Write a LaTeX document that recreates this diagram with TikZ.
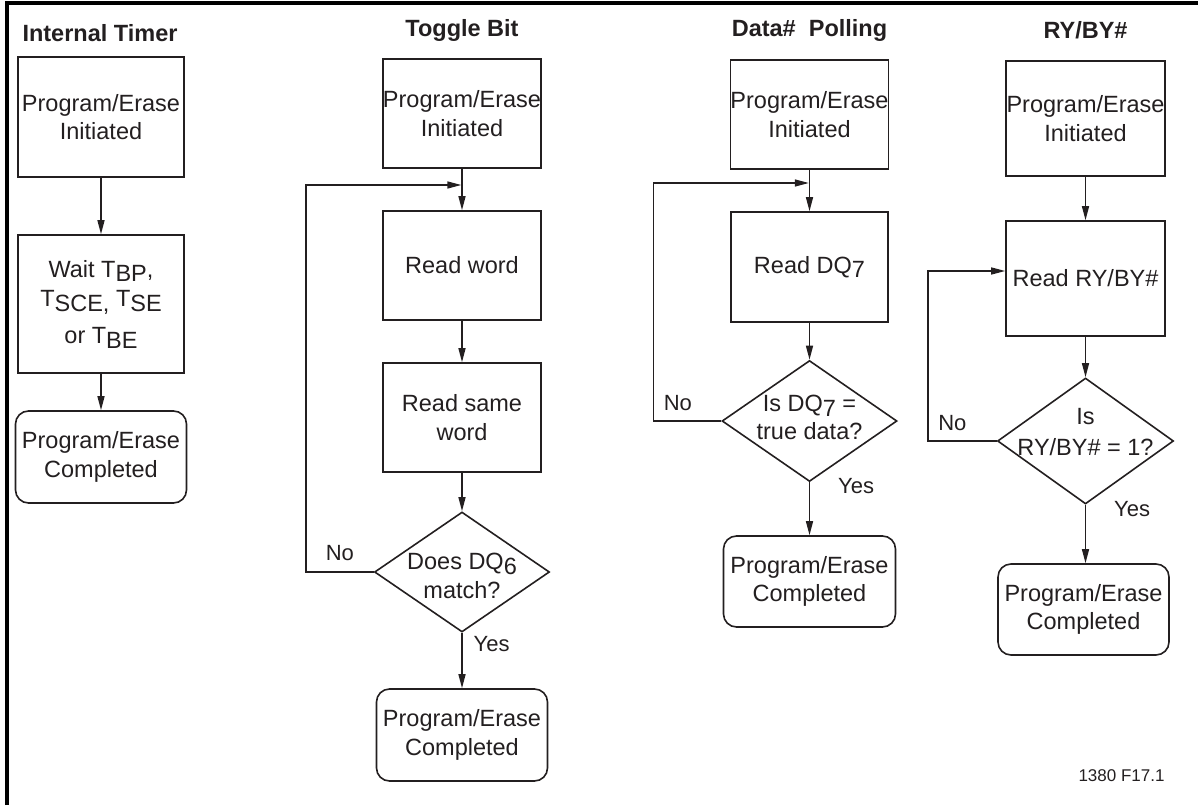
\documentclass[tikz,border=0pt]{standalone}
\usepackage{fontspec}
\setmainfont{Liberation Sans}
\usetikzlibrary{shapes.geometric}
\usetikzlibrary{arrows.meta}
\definecolor{ink}{RGB}{35,31,32}
\newcommand\dnsub[1]{\raisebox{-0.4ex}{#1}}
\newcommand\upsub[1]{\raisebox{0.4ex}{#1}}

\begin{document}
\begin{tikzpicture}[x=1pt,y=-1pt,
    >={Triangle[length=14pt,width=7pt]},
    every node/.style={text=ink, font=\fontsize{23.5}{28.5}\selectfont},
    wh/.style 2 args={minimum width=#1pt, minimum height=#2pt},
    box/.style={draw=ink, line width=1.6pt, align=center, inner sep=0pt},
    term/.style={box, rounded corners=13pt},
    dec/.style={draw=ink, line width=1.6pt, diamond, inner sep=0pt},
    title/.style={font=\fontsize{23.5}{28.5}\selectfont\bfseries},
    lbl/.style={inner sep=2pt, font=\fontsize{22}{22}\selectfont},
    flow/.style={draw=ink, line width=1.4pt, ->}]

    \useasboundingbox (0,0) rectangle (1198,805);
    \draw[line width=3.5pt] (7,805) -- (7,3) -- (1198,3); % frame

    % First column: internal timer
    \begin{scope}[shift={(101,0)}]
        \node[title] (t1) at (-1,33) {Internal Timer};
        \node[box, wh={166}{120}] (a1) at (0,117) {Program/Erase\\Initiated};
        \node[box, wh={166}{138}] (b1) at (0,304)
            {Wait T\dnsub{BP},\\[6pt]\upsub{T}SCE, \upsub{T}SE\\[3pt]or T\dnsub{BE}};
        \node[term, wh={171}{92}] (c1) at (0,457) {Program/Erase\\Completed};

        \draw[flow] (a1) -- (b1);
        \draw[flow] (b1) -- (c1);
    \end{scope}

    % Second column: toggle bit
    \begin{scope}[shift={(462,0)}]
        \node[title] (t2) at (0,30) {Toggle Bit};
        \node[box, wh={158}{109}] (a2) at (0,113.5) {Program/Erase\\Initiated};
        \node[box, wh={158}{109}] (r2) at (0,265.5) {Read word};
        \node[box, wh={158}{109}] (s2) at (0,417.5) {Read same\\word};
        \node[dec, wh={175}{120},
            label={[align=center, yshift=-4pt]center:{Does DQ\dnsub{6}\\match?}}] (d2) at (0,572) {};
        \node[term, wh={171}{92}] (c2) at (0,735) {Program/Erase\\Completed};
        \coordinate (k2) at (-156,185); % loop corner
        \coordinate (j2) at (a2.south |- k2); % loop joins here

        \draw[flow] (a2) -- (r2);
        \draw[flow] (r2) -- (s2);
        \draw[flow] (s2) -- (d2);
        \draw[flow] (d2) -- node[lbl, pos=0.2, right=9pt] {Yes} (c2);
        \draw[flow, shorten >=0.7pt] (d2.west) -- node[lbl, above=9pt] {No} (d2.west -| k2) -- (k2) -- (j2);
    \end{scope}

    % Third column: data# polling
    \begin{scope}[shift={(809.5,0)}]
        \node[title] (t3) at (0,30) {Data\#\ \ Polling};
        \node[box, wh={157}{109}] (a3) at (0,114.5) {Program/Erase\\Initiated};
        \node[box, wh={157}{110}] (r3) at (0,267) {Read DQ\dnsub{7}};
        \node[dec, wh={175}{121},
            label={[align=center, yshift=3.5pt]center:{Is DQ\dnsub{7} =\\true data?}}] (d3) at (0,421) {};
        \node[term, wh={172}{91}] (c3) at (0,581.5) {Program/Erase\\Completed};
        \coordinate (k3) at (-156,183); % loop corner
        \coordinate (j3) at (a3.south |- k3); % loop joins here

        \draw[flow] (a3) -- (r3);
        \draw[flow] (r3) -- (d3);
        \draw[flow] (d3) -- node[lbl, pos=0.07, right=26pt] {Yes} (c3);
        \draw[flow, shorten >=0.7pt] (d3.west) -- node[lbl, pos=0.64, above=8pt] {No} (d3.west -| k3) -- (k3) -- (j3);
    \end{scope}

    % Fourth column: RY/BY#
    \begin{scope}[shift={(1085.5,0)}]
        \node[title] (t4) at (0,30) {RY/BY\#};
        \node[box, wh={159}{115}] (a4) at (0,118.5) {Program/Erase\\Initiated};
        \node[box, wh={159}{115}] (r4) at (0,278.5) {Read RY/BY\#};
        \node[dec, wh={176}{126},
            label={[align=center, yshift=9pt]center:{Is\\[2pt]RY/BY\# = 1?}}] (d4) at (0,441) {};
        \node[term, wh={171}{91}] (c4) at (-2,609.5) {Program/Erase\\Completed};
        \coordinate (k4) at (-157.5,271); % loop corner
        \coordinate (j4) at (r4.west |- k4); % loop enters box here

        \draw[flow] (a4) -- (r4);
        \draw[flow] (r4) -- (d4);
        \draw[flow] (d4) -- node[lbl, pos=0.07, right=26pt] {Yes} (d4.south |- c4.north);
        \draw[flow] (d4.west) -- node[lbl, pos=0.645, above=8pt] {No} (d4.west -| k4) -- (k4) -- (j4);
    \end{scope}

    \node[font=\fontsize{17}{20}\selectfont] (fig) at (1121.5,776) {1380 F17.1};
\end{tikzpicture}
\end{document}
